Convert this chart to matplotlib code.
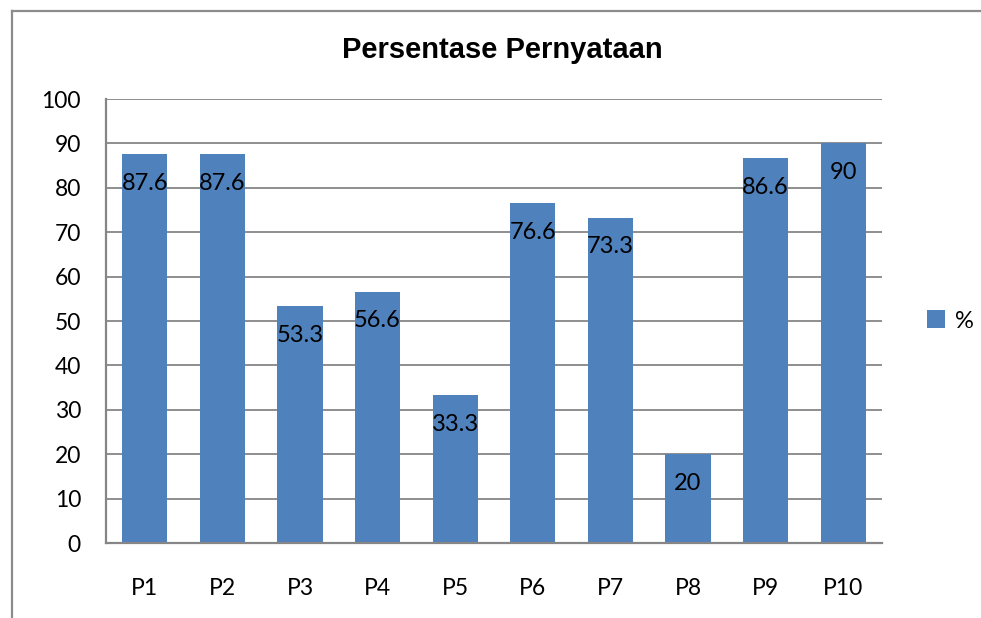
import matplotlib
matplotlib.use('Agg')
import matplotlib.pyplot as plt
from matplotlib.lines import Line2D

categories = ['P1', 'P2', 'P3', 'P4', 'P5', 'P6', 'P7', 'P8', 'P9', 'P10']
values = [87.6, 87.6, 53.3, 56.6, 33.3, 76.6, 73.3, 20, 86.6, 90]
series_name = '%'
title = 'Persentase Pernyataan'

W, H = 981, 618
bar_color = '#4F81BD'
grid_color = '#868686'

plt.rcParams['font.family'] = ['Lato', 'DejaVu Sans']

fig = plt.figure(figsize=(W / 100, H / 100), dpi=100)

# outer chart border (only left and top are visible in the reference)
fig.add_artist(Line2D([12 / W, 12 / W], [0, 1 - 11 / H], color='#8c8c8c', lw=1.6))
fig.add_artist(Line2D([12 / W, 1], [1 - 11 / H, 1 - 11 / H], color='#8c8c8c', lw=1.6))

ax = fig.add_axes([106 / W, 1 - 543 / H, (882 - 106) / W, (543 - 99) / H])
x = range(len(categories))
bars = ax.bar(x, values, width=0.58, color=bar_color, label=series_name, zorder=2)

ax.set_xlim(-0.5, len(categories) - 0.5)
ax.set_ylim(0, 100)
ax.set_yticks(range(0, 101, 10))
ax.set_xticks(list(x))
ax.set_xticklabels(categories)
ax.yaxis.grid(True, color=grid_color, lw=1.3, zorder=0)
ax.set_axisbelow(True)
ax.tick_params(axis='both', length=0, labelsize=16.5)
ax.tick_params(axis='y', pad=18)
ax.tick_params(axis='x', pad=25)
for s in ['top', 'right']:
    ax.spines[s].set_visible(False)
for s in ['left', 'bottom']:
    ax.spines[s].set_color(grid_color)
    ax.spines[s].set_linewidth(1.6)

for i, v in enumerate(values):
    ax.annotate(f'{v:g}', (i, v), xytext=(0, -21), textcoords='offset points',
                ha='center', va='center', fontsize=17, zorder=3)

fig.text(502 / W, 1 - 50 / H, title, ha='center', va='center',
         fontsize=21, fontweight='bold', family=['Liberation Sans', 'DejaVu Sans'])

ax.legend(loc='center left', bbox_to_anchor=(1.03, 0.5), frameon=False,
          fontsize=17, handlelength=0.8, handleheight=0.8, handletextpad=0.4)

fig.savefig('out.png', dpi=100)
